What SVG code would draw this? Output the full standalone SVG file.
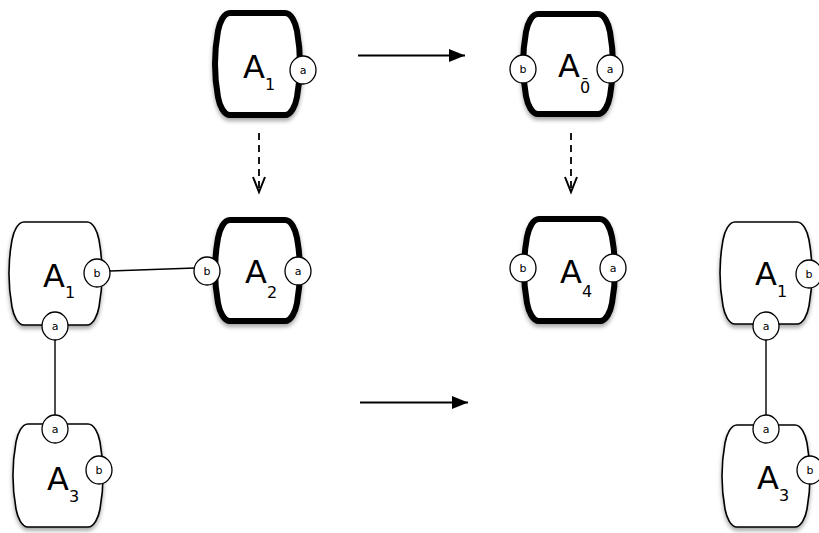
<svg xmlns="http://www.w3.org/2000/svg" width="819" height="533" viewBox="0 0 819 533">
<style>
.thick{fill:#fff;stroke:#000;stroke-width:6;filter:url(#sh)}
.thin{fill:#fff;stroke:#000;stroke-width:1.6;filter:url(#sh)}
.port{fill:#fff;stroke:#000;stroke-width:1.3}
.pl{font-family:"DejaVu Sans",sans-serif;font-size:11px;text-anchor:middle;fill:#000}
.lbl{font-family:"DejaVu Sans",sans-serif;font-size:32px;fill:#000}
.sub{font-size:16px}
.wire{stroke:#000;stroke-width:1.4;fill:none}
.arr{stroke:#000;stroke-width:2;fill:none}
.dash{stroke:#000;stroke-width:1.8;fill:none;stroke-dasharray:7,5}
</style>
<defs>
<filter id="sh" x="-20%" y="-20%" width="140%" height="140%">
<feDropShadow dx="0" dy="3" stdDeviation="2" flood-color="#000" flood-opacity="0.35"/>
</filter>
<marker id="tri" markerUnits="userSpaceOnUse" markerWidth="17" markerHeight="14" refX="16" refY="6.5" orient="auto" overflow="visible">
<path d="M0,0 L16,6.5 L0,13 Z" fill="#000" stroke="none"/>
</marker>
<marker id="vee" markerUnits="userSpaceOnUse" markerWidth="16" markerHeight="14" refX="15" refY="6" orient="auto" overflow="visible">
<path d="M0,0 L15,6 L0,12" fill="none" stroke="#000" stroke-width="2" stroke-dasharray="none"/>
</marker>
</defs>
<rect width="819" height="533" fill="#fff"/>

<g id="connectors">
<line class="wire" x1="110" y1="271" x2="195" y2="268"/>
<line class="wire" x1="55" y1="339" x2="55" y2="416"/>
<line class="wire" x1="766" y1="339" x2="766" y2="416"/>
<line class="arr" x1="358" y1="55.5" x2="465" y2="55.5" marker-end="url(#tri)"/>
<line class="arr" x1="360" y1="402.5" x2="468" y2="402.5" marker-end="url(#tri)"/>
<line class="dash" x1="259" y1="133" x2="259" y2="192" marker-end="url(#vee)"/>
<line class="dash" x1="571" y1="133" x2="571" y2="192" marker-end="url(#vee)"/>
</g>

<g id="node-A1-top">
<path class="thick" d="M230,13 H285 C291,13 295.4,22 297,31 C301,53 301,75 297,97 C295.4,106 291,115 285,115 H230 C224,115 219.6,106 218,97 C214,75 214,53 218,31 C219.6,22 224,13 230,13 Z"/>
<ellipse class="port" cx="303" cy="70" rx="13" ry="14"/>
<text class="pl" x="303" y="74">a</text>
<text class="lbl" x="243" y="78">A<tspan class="sub" dy="12">1</tspan></text>
</g>

<g id="node-A0">
<path class="thick" d="M538,14 H598 C604,14 608.4,23 610,32 C614,54 614,74 610,96 C608.4,105 604,114 598,114 H538 C532,114 527.6,105 526,96 C522,74 522,54 526,32 C527.6,23 532,14 538,14 Z"/>
<ellipse class="port" cx="523" cy="69" rx="13" ry="14"/>
<text class="pl" x="523" y="73">b</text>
<ellipse class="port" cx="610" cy="69" rx="13" ry="14"/>
<text class="pl" x="610" y="73">a</text>
<text class="lbl" x="558" y="77">A<tspan class="sub" dy="16">0&#x304;</tspan></text>
</g>

<g id="node-A1-mid">
<path class="thin" d="M24,222 H87 C93,222 97.4,231 99,240 C103,262 103,285 99,307 C97.4,316 93,325 87,325 H24 C18,325 13.6,316 12,307 C8,285 8,262 12,240 C13.6,231 18,222 24,222 Z"/>
<ellipse class="port" cx="97" cy="273" rx="13" ry="14"/>
<text class="pl" x="97" y="277">b</text>
<ellipse class="port" cx="55" cy="326" rx="13" ry="14"/>
<text class="pl" x="55" y="330">a</text>
<text class="lbl" x="43" y="287">A<tspan class="sub" dy="11">1</tspan></text>
</g>

<g id="node-A2">
<path class="thick" d="M230,220 H285 C291,220 295.4,229 297,238 C301,260 301,281 297,303 C295.4,312 291,321 285,321 H230 C224,321 219.6,312 218,303 C214,281 214,260 218,238 C219.6,229 224,220 230,220 Z"/>
<ellipse class="port" cx="207" cy="271" rx="13" ry="14"/>
<text class="pl" x="207" y="275">b</text>
<ellipse class="port" cx="298" cy="271" rx="13" ry="14"/>
<text class="pl" x="298" y="275">a</text>
<text class="lbl" x="245" y="283">A<tspan class="sub" dy="15">2</tspan></text>
</g>

<g id="node-A4">
<path class="thick" d="M539,219 H600 C606,219 610.4,228 612,237 C616,259 616,281 612,303 C610.4,312 606,321 600,321 H539 C533,321 528.6,312 527,303 C523,281 523,259 527,237 C528.6,228 533,219 539,219 Z"/>
<ellipse class="port" cx="523" cy="268" rx="13" ry="14"/>
<text class="pl" x="523" y="272">b</text>
<ellipse class="port" cx="613" cy="268" rx="13" ry="14"/>
<text class="pl" x="613" y="272">a</text>
<text class="lbl" x="560" y="283">A<tspan class="sub" dy="14">4</tspan></text>
</g>

<g id="node-A3-left">
<path class="thin" d="M28,424 H88 C94,424 98.4,433 100,442 C104,464 104,487 100,509 C98.4,518 94,527 88,527 H28 C22,527 17.6,518 16,509 C12,487 12,464 16,442 C17.6,433 22,424 28,424 Z"/>
<ellipse class="port" cx="55" cy="429" rx="13" ry="14"/>
<text class="pl" x="55" y="433">a</text>
<ellipse class="port" cx="99" cy="470" rx="13" ry="14"/>
<text class="pl" x="99" y="474">b</text>
<text class="lbl" x="47" y="490">A<tspan class="sub" dy="12">3</tspan></text>
</g>

<g id="node-A1-right">
<path class="thin" d="M735,222 H797 C803,222 807.4,231 809,240 C813,262 813,284 809,306 C807.4,315 803,324 797,324 H735 C729,324 724.6,315 723,306 C719,284 719,262 723,240 C724.6,231 729,222 735,222 Z"/>
<ellipse class="port" cx="809" cy="274" rx="13" ry="14"/>
<text class="pl" x="809" y="278">b</text>
<ellipse class="port" cx="766" cy="326" rx="13" ry="14"/>
<text class="pl" x="766" y="330">a</text>
<text class="lbl" x="755" y="285">A<tspan class="sub" dy="12">1</tspan></text>
</g>

<g id="node-A3-right">
<path class="thin" d="M737,425 H795 C801,425 805.4,434 807,443 C811,465 811,487 807,509 C805.4,518 801,527 795,527 H737 C731,527 726.6,518 725,509 C721,487 721,465 725,443 C726.6,434 731,425 737,425 Z"/>
<ellipse class="port" cx="766" cy="429" rx="13" ry="14"/>
<text class="pl" x="766" y="433">a</text>
<ellipse class="port" cx="810" cy="470" rx="13" ry="14"/>
<text class="pl" x="810" y="474">b</text>
<text class="lbl" x="757" y="489">A<tspan class="sub" dy="12">3</tspan></text>
</g>
</svg>
